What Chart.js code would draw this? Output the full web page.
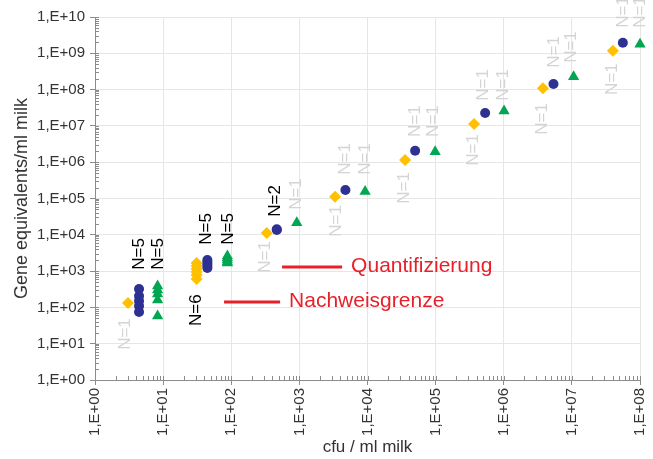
<!DOCTYPE html>
<html lang="de">
<head>
  <meta charset="UTF-8">
  <title>Gene equivalents vs cfu</title>
  <script src="https://cdn.jsdelivr.net/npm/chart.js"></script>
  <style>
    body { margin: 0; background: #fff; }
    canvas { display: block; }
  </style>
</head>
<body>
  <canvas id="chart" width="653" height="459"></canvas>

  <script>
    // Messwerte (cfu/ml -> Gene equivalents/ml)
    const diamondX = [3.05, 31, 31, 31, 31, 31, 31, 332, 3340, 35600, 367000, 3.75e6, 4.0e7];
    const diamondY = [132, 1670, 1380, 1143, 944, 781, 606, 11200, 112000, 1.15e6, 1.13e7, 1.09e8, 1.18e9];

    const circleX = [4.43, 4.43, 4.43, 4.43, 4.43, 44.6, 44.6, 44.6, 44.6, 44.6, 466, 466, 4740, 50000, 533000, 5.37e6, 5.6e7];
    const circleY = [321, 206, 150, 109, 75, 2020, 1780, 1570, 1380, 1217, 14200, 13500, 171000, 2.07e6, 2.26e7, 1.43e8, 1.96e9];

    const triangleX = [8.3, 8.3, 8.3, 8.3, 8.3, 87.7, 87.7, 87.7, 87.7, 87.7, 916, 9220, 98400, 1.01e6, 1.06e7, 1.0e8];
    const triangleY = [390, 302, 234, 160, 58, 2610, 2300, 2020, 1780, 1660, 21500, 155000, 1.95e6, 2.57e7, 2.27e8, 1.77e9];

    // Achsen-Dekaden
    const xDecades = [0, 1, 2, 3, 4, 5, 6, 7, 8];
    const yDecades = [0, 1, 2, 3, 4, 5, 6, 7, 8, 9, 10];

    // N-Beschriftungen (Text, x, y in Datenkoordinaten)
    const nText = ["N=1", "N=5", "N=5", "N=6", "N=5", "N=5", "N=2", "N=1", "N=1", "N=1", "N=1", "N=1",
                   "N=1", "N=1", "N=1", "N=1", "N=1", "N=1", "N=1", "N=1", "N=1", "N=1", "N=1", "N=1"];
    const nX = [2.76, 4.43, 8.4, 31, 43.7, 90.7, 440, 313, 916, 3460, 4690, 9220,
                34400, 50000, 92800, 355000, 498000, 970000, 3.63e6, 5.5e6, 9.66e6, 3.87e7, 5.67e7, 1.0e8];
    const nY = [18.5, 2960, 2960, 84, 14500, 14500, 85700, 2450, 133000, 24000, 1.23e6, 1.23e6,
                195000, 1.36e7, 1.36e7, 2.17e6, 1.34e8, 1.34e8, 1.55e7, 1.09e9, 1.49e9, 1.95e8, 1.37e10, 1.37e10];

    // Grenzlinien
    const limitText = ["Quantifizierung", "Nachweisgrenze"];
    const limitFrom = [557, 78.4];
    const limitTo = [4240, 521];
    const limitY = [1300, 141];

    function toPoints(xs, ys) {
      return xs.map((x, i) => ({ x: x, y: ys[i] }));
    }

    function expLabel(v) {
      const e = Math.round(Math.log10(v));
      return "1,E+" + String(e).padStart(2, "0");
    }

    const FONT = "'Liberation Sans', Arial, sans-serif";

    const decorPlugin = {
      id: "decor",
      beforeDatasetsDraw(chart) {
        const ctx = chart.ctx;
        const xs = chart.scales.x;
        const ys = chart.scales.y;
        const area = chart.chartArea;

        // kleine Zwischenstriche innen an den Achsen
        ctx.save();
        ctx.strokeStyle = "#8c8c8c";
        ctx.lineWidth = 1;
        ctx.beginPath();
        xDecades.forEach(d => {
          const p0 = Math.round(xs.getPixelForValue(Math.pow(10, d))) + 0.5;
          ctx.moveTo(p0, area.bottom); ctx.lineTo(p0, area.bottom - 4);
          if (d === 8) return;
          for (let m = 2; m <= 9; m++) {
            const p = Math.round(xs.getPixelForValue(m * Math.pow(10, d))) + 0.5;
            ctx.moveTo(p, area.bottom); ctx.lineTo(p, area.bottom - 4);
          }
        });
        yDecades.forEach(d => {
          const p0 = Math.round(ys.getPixelForValue(Math.pow(10, d))) + 0.5;
          ctx.moveTo(area.left, p0); ctx.lineTo(area.left + 4, p0);
          if (d === 10) return;
          for (let m = 2; m <= 9; m++) {
            const p = Math.round(ys.getPixelForValue(m * Math.pow(10, d))) + 0.5;
            ctx.moveTo(area.left, p); ctx.lineTo(area.left + 4, p);
          }
        });
        ctx.stroke();

        // N-Beschriftungen, gedreht
        ctx.font = "17px " + FONT;
        ctx.textAlign = "center";
        ctx.textBaseline = "middle";
        nText.forEach((t, i) => {
          ctx.save();
          ctx.translate(xs.getPixelForValue(nX[i]), ys.getPixelForValue(nY[i]));
          ctx.rotate(-Math.PI / 2);
          ctx.fillStyle = t === "N=1" ? "#d4d4d4" : "#000000";
          ctx.fillText(t, 0, 0);
          ctx.restore();
        });

        // rote Linien + Text
        ctx.strokeStyle = "#e8202a";
        ctx.fillStyle = "#e8202a";
        ctx.lineWidth = 3;
        ctx.font = "21px " + FONT;
        ctx.textAlign = "left";
        limitText.forEach((t, i) => {
          const y = ys.getPixelForValue(limitY[i]);
          const x1 = xs.getPixelForValue(limitFrom[i]);
          const x2 = xs.getPixelForValue(limitTo[i]);
          ctx.beginPath();
          ctx.moveTo(x1, y); ctx.lineTo(x2, y);
          ctx.stroke();
          ctx.fillText(t, x2 + 9, y - 1);
        });
        ctx.restore();
      }
    };

    const ctx = document.getElementById("chart").getContext("2d");

    new Chart(ctx, {
      type: "scatter",
      data: {
        datasets: [
          {
            data: toPoints(diamondX, diamondY),
            pointStyle: "rectRot",
            pointRadius: 6,
            backgroundColor: "#ffc000",
            borderColor: "#ffc000",
            borderWidth: 0,
            clip: false
          },
          {
            data: toPoints(circleX, circleY),
            pointStyle: "circle",
            pointRadius: 5,
            backgroundColor: "#2e3192",
            borderColor: "#2e3192",
            borderWidth: 0,
            clip: false
          },
          {
            data: toPoints(triangleX, triangleY),
            pointStyle: "triangle",
            pointRadius: 6.5,
            backgroundColor: "#00a651",
            borderColor: "#00a651",
            borderWidth: 0,
            clip: false
          }
        ]
      },
      options: {
        responsive: false,
        animation: false,
        layout: { padding: { top: 17, right: 13, left: 0, bottom: 0 } },
        plugins: {
          legend: { display: false },
          tooltip: { enabled: false }
        },
        scales: {
          x: {
            type: "logarithmic",
            min: 1,
            max: 1e8,
            afterBuildTicks: s => { s.ticks = xDecades.map(d => ({ value: Math.pow(10, d) })); },
            afterFit: s => { s.height = 79; s.paddingLeft = 0; s.paddingRight = 0; },
            grid: { color: "#e6e6e6", tickColor: "#8c8c8c", tickLength: 5 },
            border: { color: "#8c8c8c" },
            ticks: {
              callback: v => expLabel(v),
              minRotation: 90,
              maxRotation: 90,
              padding: 3,
              autoSkip: false,
              color: "#333",
              font: { family: FONT, size: 15 }
            },
            title: {
              display: true,
              text: "cfu / ml milk",
              color: "#333",
              padding: { top: 0, bottom: 1 },
              font: { family: FONT, size: 17 }
            }
          },
          y: {
            type: "logarithmic",
            min: 1,
            max: 1e10,
            afterBuildTicks: s => { s.ticks = yDecades.map(d => ({ value: Math.pow(10, d) })); },
            afterFit: s => { s.width = 95; s.paddingTop = 0; s.paddingBottom = 0; },
            grid: { color: "#e6e6e6", tickColor: "#8c8c8c", tickLength: 5 },
            border: { color: "#8c8c8c" },
            ticks: {
              callback: v => expLabel(v),
              padding: 5,
              autoSkip: false,
              color: "#333",
              font: { family: FONT, size: 15 }
            },
            title: {
              display: true,
              text: "Gene equivalents/ml milk",
              color: "#333",
              padding: { top: 11, bottom: 0 },
              font: { family: FONT, size: 18 }
            }
          }
        }
      },
      plugins: [decorPlugin]
    });
  </script>
</body>
</html>
